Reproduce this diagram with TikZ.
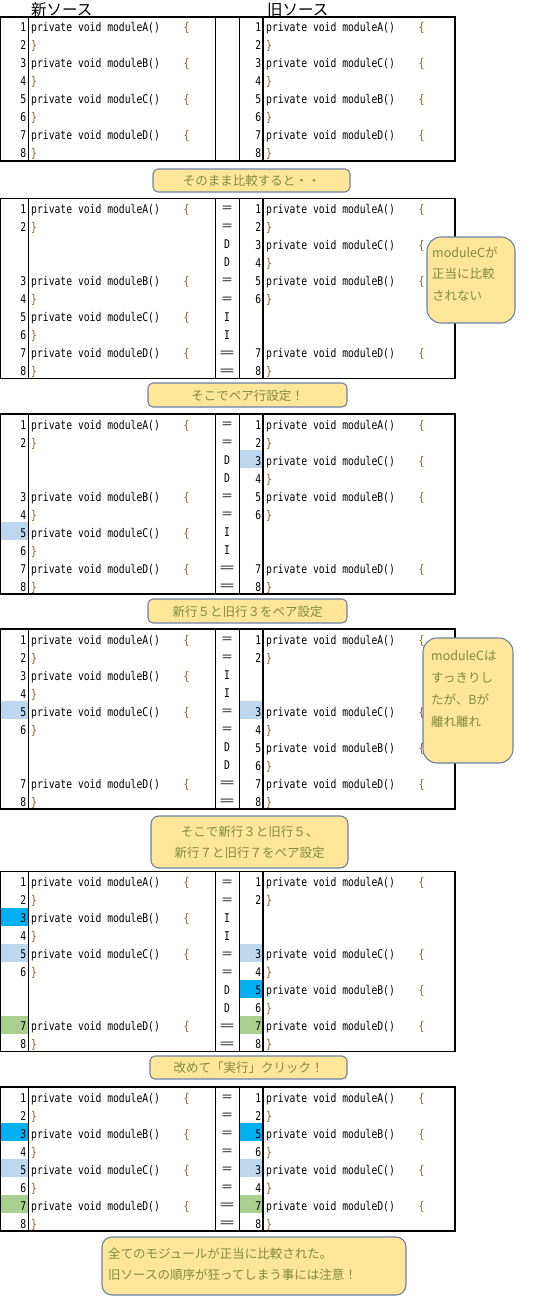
\documentclass[tikz,border=0pt]{standalone}
\usepackage{fontspec}
\usepackage{graphicx}
\setmainfont{Noto Sans CJK JP}
\newfontfamily\codefont[FakeStretch=0.81]{DejaVu Sans Mono}
\definecolor{cfill}{HTML}{FFE699}
\definecolor{cdraw}{RGB}{110,130,165}
\definecolor{ctext}{RGB}{125,140,60}
\definecolor{hlb}{HTML}{BDD7EE}
\definecolor{hbb}{HTML}{00B0F0}
\definecolor{hgr}{HTML}{A9D08E}
\definecolor{brc}{RGB}{140,95,30}
\tikzset{
  lnum/.style={anchor=base east, inner sep=0pt, font=\codefont\fontsize{12}{12}\selectfont},
  codetxt/.style={anchor=base west, inner sep=0pt, font=\codefont\fontsize{12}{12}\selectfont},
  bracetxt/.style={codetxt, text=brc},
  diffmark/.style={anchor=base, inner sep=0pt, font=\codefont\fontsize{12}{12}\selectfont},
  diffeq/.style={anchor=base, inner sep=0pt, font=\fontsize{12}{12}\selectfont},
  callout/.style={draw=cdraw, fill=cfill, line width=1.1pt, rounded corners=5pt, inner sep=0pt},
  ctxt/.style={text=ctext, font=\fontsize{12.5}{12.5}\selectfont, inner sep=0pt},
  hdr/.style={anchor=base west, inner sep=0pt, font=\fontsize{15.5}{15.5}\selectfont},
  tblouter/.style={line width=1.3pt},
  tblinner/.style={line width=0.9pt},
  divider/.style={line width=2pt},
}
\newcommand\tabtop{0}
\newcommand\Lo[4]{%
  \node[lnum] (#1L#2n) at (26.5,{\tabtop+18*#2-3}) {#3};
  \node[codetxt] (#1L#2c) at (31,{\tabtop+18*#2-3}) {private void module#4()};
  \node[bracetxt] (#1L#2b) at (183.5,{\tabtop+18*#2-3}) {\{};}
\newcommand\Lc[3]{%
  \node[lnum] (#1L#2n) at (26.5,{\tabtop+18*#2-3}) {#3};
  \node[bracetxt] (#1L#2b) at (31,{\tabtop+18*#2-3}) {\}};}
\newcommand\Ro[4]{%
  \node[lnum] (#1R#2n) at (261.5,{\tabtop+18*#2-3}) {#3};
  \node[codetxt] (#1R#2c) at (266,{\tabtop+18*#2-3}) {private void module#4()};
  \node[bracetxt] (#1R#2b) at (418.5,{\tabtop+18*#2-3}) {\{};}
\newcommand\Rc[3]{%
  \node[lnum] (#1R#2n) at (261.5,{\tabtop+18*#2-3}) {#3};
  \node[bracetxt] (#1R#2b) at (266,{\tabtop+18*#2-3}) {\}};}
\newcommand\Mk[3]{\node[diffmark] (#1M#2) at (227,{\tabtop+18*#2-3.5}) {#3};}
\newcommand\Meq[2]{\node[diffeq] (#1M#2) at (227,{\tabtop+18*#2-3.5}) {＝};}
\newcommand\Mwide[2]{\node[diffeq] (#1M#2) at (227,{\tabtop+18*#2-3.5}) {\scalebox{1.45}[1]{＝}};}
\newcommand\HL[4]{\fill[#4] (#1,{\tabtop+18*(#3-1)}) rectangle (#2,{\tabtop+18*#3});}
\newcommand\Grid[1]{%
  \draw[tblinner] (28,\tabtop) -- (28,{\tabtop+18*#1})
                  (215,\tabtop) -- (215,{\tabtop+18*#1})
                  (239,\tabtop) -- (239,{\tabtop+18*#1});
  \draw[divider] (263,\tabtop) -- (263,{\tabtop+18*#1});
  \draw[tblouter] (0.65,\tabtop) rectangle (455,{\tabtop+18*#1});}
\begin{document}
\begin{tikzpicture}[x=1pt,y=-1pt]
\fill[white] (0,0) rectangle (555,1305);
\useasboundingbox (0,0) rectangle (555,1305);

% headers
\node[hdr] (hnew) at (31,15.5) {新ソース};
\node[hdr] (hold) at (267,15.5) {旧ソース};

% ---------- table 1
\renewcommand\tabtop{17}
\Lo{a}{1}{1}{A}\Lc{a}{2}{2}\Lo{a}{3}{3}{B}\Lc{a}{4}{4}\Lo{a}{5}{5}{C}\Lc{a}{6}{6}\Lo{a}{7}{7}{D}\Lc{a}{8}{8}
\Ro{a}{1}{1}{A}\Rc{a}{2}{2}\Ro{a}{3}{3}{C}\Rc{a}{4}{4}\Ro{a}{5}{5}{B}\Rc{a}{6}{6}\Ro{a}{7}{7}{D}\Rc{a}{8}{8}
\Grid{8}

\node[callout, minimum width=197pt, minimum height=23pt] (c1) at (251.5,180.5) {};
\node[ctxt, anchor=base] (c1t) at (251.5,185.5) {そのまま比較すると・・};

% ---------- table 2
\renewcommand\tabtop{198.5}
\Lo{b}{1}{1}{A}\Lc{b}{2}{2}\Lo{b}{5}{3}{B}\Lc{b}{6}{4}\Lo{b}{7}{5}{C}\Lc{b}{8}{6}\Lo{b}{9}{7}{D}\Lc{b}{10}{8}
\Ro{b}{1}{1}{A}\Rc{b}{2}{2}\Ro{b}{3}{3}{C}\Rc{b}{4}{4}\Ro{b}{5}{5}{B}\Rc{b}{6}{6}\Ro{b}{9}{7}{D}\Rc{b}{10}{8}
\Meq{b}{1}\Meq{b}{2}\Mk{b}{3}{D}\Mk{b}{4}{D}\Meq{b}{5}\Meq{b}{6}\Mk{b}{7}{I}\Mk{b}{8}{I}\Mwide{b}{9}\Mwide{b}{10}
\Grid{10}

\node[callout, minimum width=199pt, minimum height=24pt] (c2) at (247.5,395) {};
\node[ctxt, anchor=base] (c2t) at (247.5,400) {そこでペア行設定！};

% ---------- table 3
\renewcommand\tabtop{414}
\HL{239}{263}{3}{hlb}\HL{0}{28}{7}{hlb}
\Lo{c}{1}{1}{A}\Lc{c}{2}{2}\Lo{c}{5}{3}{B}\Lc{c}{6}{4}\Lo{c}{7}{5}{C}\Lc{c}{8}{6}\Lo{c}{9}{7}{D}\Lc{c}{10}{8}
\Ro{c}{1}{1}{A}\Rc{c}{2}{2}\Ro{c}{3}{3}{C}\Rc{c}{4}{4}\Ro{c}{5}{5}{B}\Rc{c}{6}{6}\Ro{c}{9}{7}{D}\Rc{c}{10}{8}
\Meq{c}{1}\Meq{c}{2}\Mk{c}{3}{D}\Mk{c}{4}{D}\Meq{c}{5}\Meq{c}{6}\Mk{c}{7}{I}\Mk{c}{8}{I}\Mwide{c}{9}\Mwide{c}{10}
\Grid{10}

\node[callout, minimum width=199pt, minimum height=24pt] (c3) at (247.5,611) {};
\node[ctxt, anchor=base] (c3t) at (247.5,616) {新行５と旧行３をペア設定};

% ---------- table 4
\renewcommand\tabtop{629}
\HL{0}{28}{5}{hlb}\HL{239}{263}{5}{hlb}
\Lo{d}{1}{1}{A}\Lc{d}{2}{2}\Lo{d}{3}{3}{B}\Lc{d}{4}{4}\Lo{d}{5}{5}{C}\Lc{d}{6}{6}\Lo{d}{9}{7}{D}\Lc{d}{10}{8}
\Ro{d}{1}{1}{A}\Rc{d}{2}{2}\Ro{d}{5}{3}{C}\Rc{d}{6}{4}\Ro{d}{7}{5}{B}\Rc{d}{8}{6}\Ro{d}{9}{7}{D}\Rc{d}{10}{8}
\Meq{d}{1}\Meq{d}{2}\Mk{d}{3}{I}\Mk{d}{4}{I}\Meq{d}{5}\Meq{d}{6}\Mk{d}{7}{D}\Mk{d}{8}{D}\Mwide{d}{9}\Mwide{d}{10}
\Grid{10}

\node[callout, minimum width=197pt, minimum height=52pt, rounded corners=8pt] (c4) at (249.5,842) {};
\node[ctxt, anchor=base] (c4a) at (249.5,836.5) {そこで新行３と旧行５、};
\node[ctxt, anchor=base] (c4b) at (249.5,857.5) {新行７と旧行７をペア設定};

% ---------- table 5
\renewcommand\tabtop{871.5}
\HL{0}{28}{3}{hbb}\HL{0}{28}{5}{hlb}\HL{239}{263}{5}{hlb}\HL{239}{263}{7}{hbb}\HL{0}{28}{9}{hgr}\HL{239}{263}{9}{hgr}
\Lo{e}{1}{1}{A}\Lc{e}{2}{2}\Lo{e}{3}{3}{B}\Lc{e}{4}{4}\Lo{e}{5}{5}{C}\Lc{e}{6}{6}\Lo{e}{9}{7}{D}\Lc{e}{10}{8}
\Ro{e}{1}{1}{A}\Rc{e}{2}{2}\Ro{e}{5}{3}{C}\Rc{e}{6}{4}\Ro{e}{7}{5}{B}\Rc{e}{8}{6}\Ro{e}{9}{7}{D}\Rc{e}{10}{8}
\Meq{e}{1}\Meq{e}{2}\Mk{e}{3}{I}\Mk{e}{4}{I}\Meq{e}{5}\Meq{e}{6}\Mk{e}{7}{D}\Mk{e}{8}{D}\Mwide{e}{9}\Mwide{e}{10}
\Grid{10}

\node[callout, minimum width=197pt, minimum height=23pt] (c5) at (248.5,1067.5) {};
\node[ctxt, anchor=base] (c5t) at (248.5,1072.5) {改めて「実行」クリック！};

% ---------- table 6
\renewcommand\tabtop{1087}
\HL{0}{28}{3}{hbb}\HL{239}{263}{3}{hbb}\HL{0}{28}{5}{hlb}\HL{239}{263}{5}{hlb}\HL{0}{28}{7}{hgr}\HL{239}{263}{7}{hgr}
\Lo{f}{1}{1}{A}\Lc{f}{2}{2}\Lo{f}{3}{3}{B}\Lc{f}{4}{4}\Lo{f}{5}{5}{C}\Lc{f}{6}{6}\Lo{f}{7}{7}{D}\Lc{f}{8}{8}
\Ro{f}{1}{1}{A}\Rc{f}{2}{2}\Ro{f}{3}{5}{B}\Rc{f}{4}{6}\Ro{f}{5}{3}{C}\Rc{f}{6}{4}\Ro{f}{7}{7}{D}\Rc{f}{8}{8}
\Meq{f}{1}\Meq{f}{2}\Meq{f}{3}\Meq{f}{4}\Meq{f}{5}\Meq{f}{6}\Mwide{f}{7}\Mwide{f}{8}
\Grid{8}

\node[callout, minimum width=304pt, minimum height=58pt, rounded corners=10pt] (c6) at (254,1266) {};
\node[ctxt, anchor=base west] (c6a) at (108,1258) {全てのモジュールが正当に比較された。};
\node[ctxt, anchor=base west] (c6b) at (108,1279) {旧ソースの順序が狂ってしまう事には注意！};

% ---------- side notes
\node[callout, minimum width=88pt, minimum height=86pt, rounded corners=14pt] (n1) at (471,280) {};
\node[ctxt, anchor=base west] (n1a) at (432,257.5) {moduleCが};
\node[ctxt, anchor=base west] (n1b) at (432,279) {正当に比較};
\node[ctxt, anchor=base west] (n1c) at (432,300.5) {されない};

\node[callout, minimum width=90pt, minimum height=125pt, rounded corners=14pt] (n2) at (468,700.5) {};
\node[ctxt, anchor=base west] (n2a) at (431,660) {moduleCは};
\node[ctxt, anchor=base west] (n2b) at (431,682) {すっきりし};
\node[ctxt, anchor=base west] (n2c) at (431,704) {たが、Bが};
\node[ctxt, anchor=base west] (n2d) at (431,726) {離れ離れ};
\end{tikzpicture}
\end{document}
